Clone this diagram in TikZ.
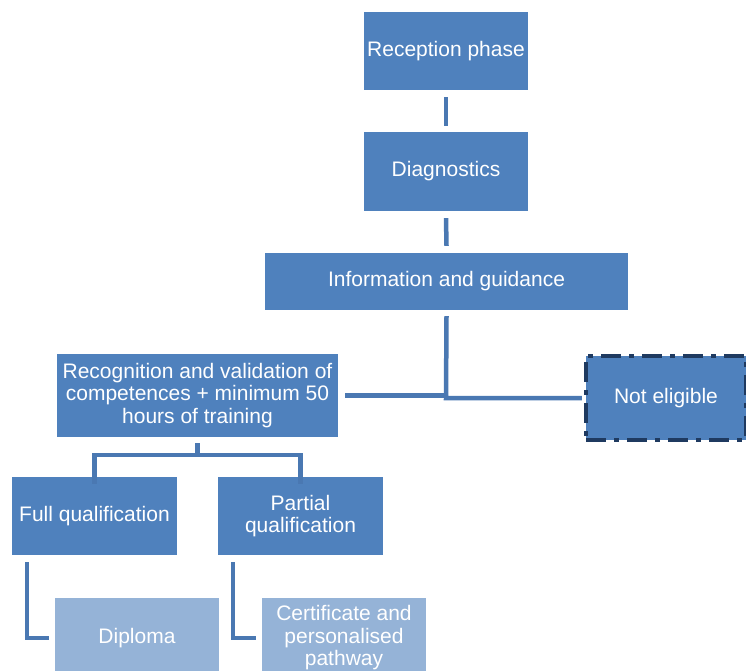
\documentclass[tikz,border=0pt]{standalone}
\usepackage{fontspec}
\setmainfont{Liberation Sans}
\definecolor{boxblue}{HTML}{4F81BD}
\definecolor{lightblue}{HTML}{95B3D7}
\definecolor{linkblue}{HTML}{4A78B2}
\definecolor{navy}{HTML}{1F3A60}
\begin{document}
\begin{tikzpicture}[x=1pt,y=-1pt,
  every node/.style={inner sep=0pt,align=center,text=white,font=\fontsize{21}{22.5}\selectfont},
  bluebox/.style={fill=boxblue,minimum width=#1},
  lightbox/.style={fill=lightblue,minimum width=164pt,minimum height=80pt},
  link/.style={draw=linkblue,line width=4.5pt}]
\useasboundingbox (0,0) rectangle (746,671);
\node[bluebox=164pt,minimum height=78pt] (rec) at (446,51) {Reception phase};
\node[bluebox=164pt,minimum height=79pt] (diag) at (446,171.5) {Diagnostics};
\node[bluebox=363pt,minimum height=57pt] (info) at (446.5,281.5) {Information and guidance};
\node[bluebox=281pt,minimum height=83pt] (rvc) at (197.5,395.5) {Recognition and validation of\\competences + minimum 50\\hours of training};
\node[bluebox=160pt,minimum height=84pt,draw=navy,line width=4.5pt,dash pattern=on 20pt off 8pt on 5pt off 8pt] (ne) at (666,398) {Not eligible};
\node[bluebox=165pt,minimum height=78pt] (full) at (94.5,516) {Full qualification};
\node[bluebox=165pt,minimum height=78pt] (part) at (300.5,516) {Partial\\qualification};
\node[lightbox] (dip) at (137,638) {Diploma};
\node[lightbox] (cert) at (344,638) {Certificate and\\personalised\\pathway};
% connectors
\coordinate (j1) at (446,398);
\coordinate (j2) at (197.5,455);
\draw[link] ([yshift=-7pt]rec.south) -- ([yshift=6pt]diag.north);
\draw[link] ([yshift=-7pt]diag.south) -- ([yshift=7pt]info.north);
\draw[link] ([yshift=-6pt]info.south) -- (j1) -- ([xshift=-2pt]ne.west |- j1);
\draw[link] ([xshift=7pt]rvc.east) -- (rvc.east -| j1);
\draw[link] ([yshift=-6pt]rvc.south) -- (j2);
\draw[link] ([yshift=-7pt]full.north) |- (j2) -| ([yshift=-7pt]part.north);
\draw[link] ([xshift=15pt,yshift=-7pt]full.south west) |- ([xshift=-6pt]dip.west);
\draw[link] ([xshift=15pt,yshift=-7pt]part.south west) |- ([xshift=-6pt]cert.west);
\end{tikzpicture}
\end{document}
